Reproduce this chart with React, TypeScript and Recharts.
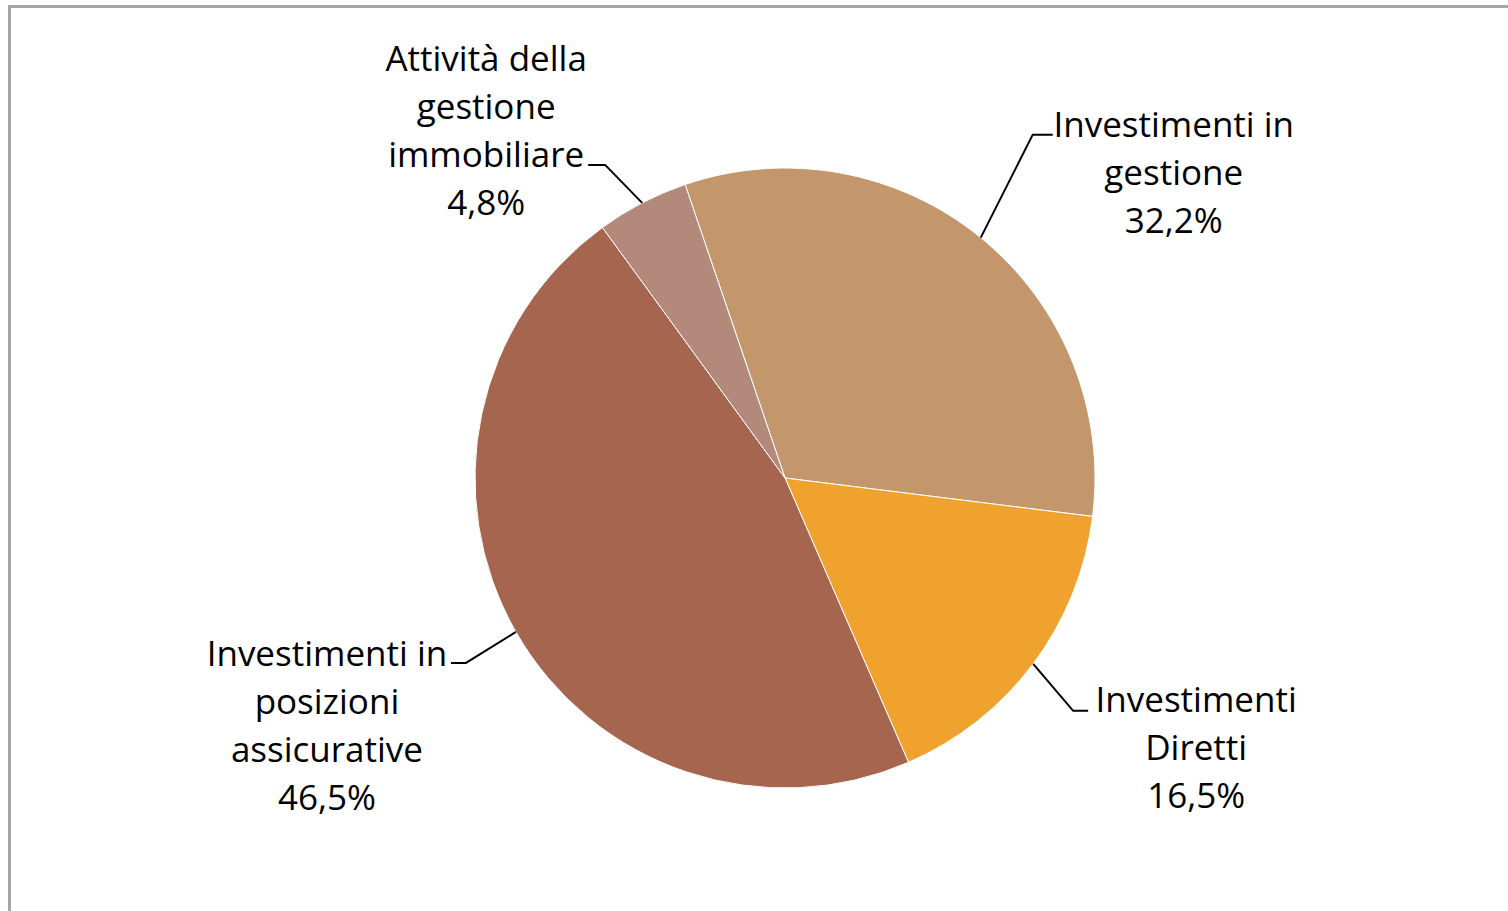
import React from "react";
import { PieChart, Pie, Cell } from "recharts";

const categories = [
  "Investimenti in gestione",
  "Investimenti Diretti",
  "Investimenti in posizioni assicurative",
  "Attività della gestione immobiliare",
];
const values = [32.2, 16.5, 46.5, 4.8];
const labelLines = [
  ["Investimenti in", "gestione"],
  ["Investimenti", "Diretti"],
  ["Investimenti in", "posizioni", "assicurative"],
  ["Attività della", "gestione", "immobiliare"],
];
const colors = ["#C4966B", "#F0A22E", "#A5654E", "#B3897B"];

const data = categories.map((name, i) => ({ name, value: values[i] }));

const FONT = "'Open Sans', 'DejaVu Sans', sans-serif";
const FS = 35;
const LH = 48;

// layout for each label: elbow offset from start, horizontal end offset, text center & first baseline offset
const layout = [
  { elbow: [52, -103], endDx: 20, tx: 193, ty: -101 },
  { elbow: [40, 47], endDx: 15, tx: 163, ty: 48 },
  { elbow: [-50, 31], endDx: -15, tx: -189, ty: 34 },
  { elbow: [-37, -38], endDx: -17, tx: -156, ty: -132 },
];

const RADIAN = Math.PI / 180;

const renderLabel = (props: any) => {
  const { cx, cy, midAngle, outerRadius, index, value } = props;
  const sx = cx + outerRadius * Math.cos(-midAngle * RADIAN);
  const sy = cy + outerRadius * Math.sin(-midAngle * RADIAN);
  const L = layout[index];
  const ex = sx + L.elbow[0];
  const ey = sy + L.elbow[1];
  const fx = ex + L.endDx;
  const lines = [...labelLines[index], `${value.toFixed(1).replace(".", ",")}%`];
  return (
    <g key={`lbl-${index}`}>
      <polyline
        points={`${sx},${sy} ${ex},${ey} ${fx},${ey}`}
        fill="none"
        stroke="#000"
        strokeWidth={2}
      />
      <text
        x={sx + L.tx}
        y={sy + L.ty}
        textAnchor="middle"
        fontFamily={FONT}
        fontSize={FS}
        fill="#000"
      >
        {lines.map((t, k) => (
          <tspan key={k} x={sx + L.tx} dy={k === 0 ? 0 : LH}>
            {t}
          </tspan>
        ))}
      </text>
    </g>
  );
};

export default function App() {
  return (
    <div
      style={{
        position: "absolute",
        left: 0,
        top: 0,
        width: 1508,
        height: 911,
        overflow: "hidden",
        background: "#fff",
      }}
    >
      <div
        style={{
          position: "absolute",
          left: 8,
          top: 5,
          width: 1600,
          height: 1000,
          borderTop: "3px solid #A6A6A6",
          borderLeft: "3px solid #A6A6A6",
        }}
      />
      <div style={{ position: "absolute", left: 0, top: 0 }}>
        <PieChart
          width={1508}
          height={911}
          margin={{ top: 0, right: 0, bottom: 0, left: 0 }}
        >
          <Pie
            data={data}
            dataKey="value"
            nameKey="name"
            cx={785}
            cy={478}
            outerRadius={310}
            startAngle={108.8}
            endAngle={-251.2}
            stroke="#ffffff"
            strokeWidth={1}
            isAnimationActive={false}
            label={renderLabel}
            labelLine={false}
          >
            {data.map((d, i) => (
              <Cell key={d.name} fill={colors[i]} />
            ))}
          </Pie>
        </PieChart>
      </div>
    </div>
  );
}
